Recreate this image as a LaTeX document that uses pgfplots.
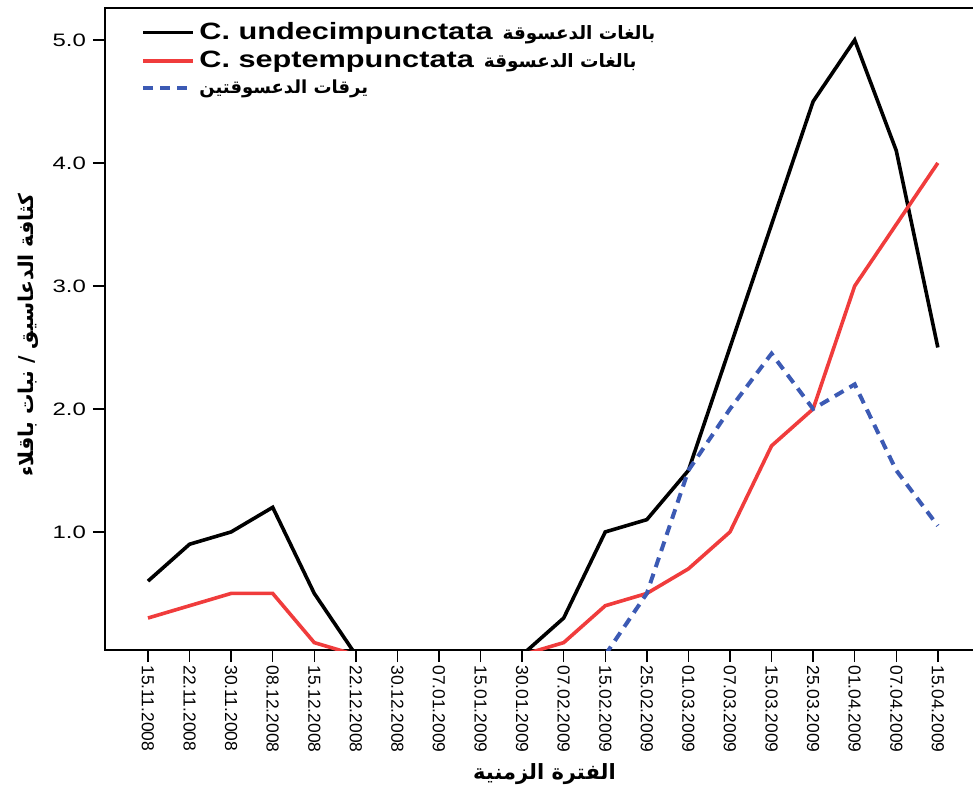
\documentclass[border=0pt]{standalone}
\usepackage{fontspec}
\usepackage{pgfplots}
\pgfplotsset{compat=1.18}
\setmainfont{Liberation Sans}
\newfontfamily\stretchsans{Liberation Sans}[FakeStretch=1.33]
\newfontfamily\legfont{Liberation Sans}[FakeStretch=1.3]
\newfontfamily\arabicfont[Script=Arabic]{DejaVu Sans}
\TeXXeTstate=1
\definecolor{cred}{RGB}{240,60,60}
\definecolor{cblue}{RGB}{60,90,180}
\begin{document}
\begin{tikzpicture}
\useasboundingbox (-52.5pt,-71pt) rectangle (434pt,325pt);
\begin{axis}[
  at={(0pt,0pt)}, anchor=south west,
  scale only axis, width=434.5pt, height=321pt,
  xmin=-1.034, xmax=19.87, ymin=0.04, ymax=5.26,
  xtick={0,...,19},
  xtick pos=bottom, ytick pos=left,
  xticklabels={15.11.2008,22.11.2008,30.11.2008,08.12.2008,15.12.2008,22.12.2008,30.12.2008,07.01.2009,15.01.2009,30.01.2009,07.02.2009,15.02.2009,25.02.2009,01.03.2009,07.03.2009,15.03.2009,25.03.2009,01.04.2009,07.04.2009,15.04.2009},
  xticklabel style={rotate=-90, anchor=west, font=\fontsize{8.7}{9}\selectfont, inner sep=1.5pt},
  ytick={1,2,3,4,5},
  yticklabel style={font=\stretchsans\fontsize{9}{9}\selectfont, /pgf/number format/.cd, fixed, fixed zerofill, precision=1, assume math mode=true},
  tick align=outside, major tick length=6pt,
  tick style={black, line width=0.75pt},
  axis line style={line width=0.75pt},
  xlabel={\arabicfont\bfseries\fontsize{10.5}{11}\selectfont\beginR الفترة الزمنية\endR},
  xlabel style={at={(axis description cs:0.5,0)}, anchor=center, yshift=-62pt, xshift=2.5pt},
  ylabel={\arabicfont\bfseries\fontsize{10.2}{11}\selectfont\beginR كثافة الدعاسيق / نبات باقلاء\endR},
  ylabel style={at={(axis description cs:0,0.5)}, anchor=center, yshift=38.5pt, xshift=-3pt},
  legend style={at={(axis description cs:0,1)}, anchor=north west, xshift=17pt, yshift=-4pt, draw=none, fill=none, inner sep=1pt, row sep=0.5pt, cells={anchor=west}},
  legend image code/.code={\draw[#1] (0pt,0pt) -- (25pt,0pt);},
]
\addplot[black, line width=1.8pt] coordinates {(0,0.6) (1,0.9) (2,1.0) (3,1.2) (4,0.5) (5,0) (6,0) (7,0) (8,0) (9,0) (10,0.3) (11,1.0) (12,1.1) (13,1.5) (14,2.5) (15,3.5) (16,4.5) (17,5.0) (18,4.1) (19,2.5)};
\addlegendentry{{\legfont\bfseries\fontsize{11.8}{11}\selectfont C. undecimpunctata}\hspace{5pt}{\arabicfont\bfseries\fontsize{9.2}{9}\selectfont\beginR بالغات الدعسوقة\endR}}
\addplot[cred, line width=1.8pt] coordinates {(0,0.3) (1,0.4) (2,0.5) (3,0.5) (4,0.1) (5,0) (6,0) (7,0) (8,0) (9,0) (10,0.1) (11,0.4) (12,0.5) (13,0.7) (14,1.0) (15,1.7) (16,2.0) (17,3.0) (18,3.5) (19,4.0)};
\addlegendentry{{\legfont\bfseries\fontsize{11.8}{11}\selectfont C. septempunctata}\hspace{5pt}{\arabicfont\bfseries\fontsize{9.2}{9}\selectfont\beginR بالغات الدعسوقة\endR}}
\addplot[cblue, line width=2pt, dash pattern=on 5pt off 3.5pt] coordinates {(11,0) (12,0.5) (13,1.5) (14,2.0) (15,2.45) (16,2.0) (17,2.2) (18,1.5) (19,1.05)};
\addlegendentry{{\arabicfont\bfseries\fontsize{9}{9}\selectfont\beginR يرقات الدعسوقتين\endR}}
\end{axis}
\end{tikzpicture}
\end{document}
